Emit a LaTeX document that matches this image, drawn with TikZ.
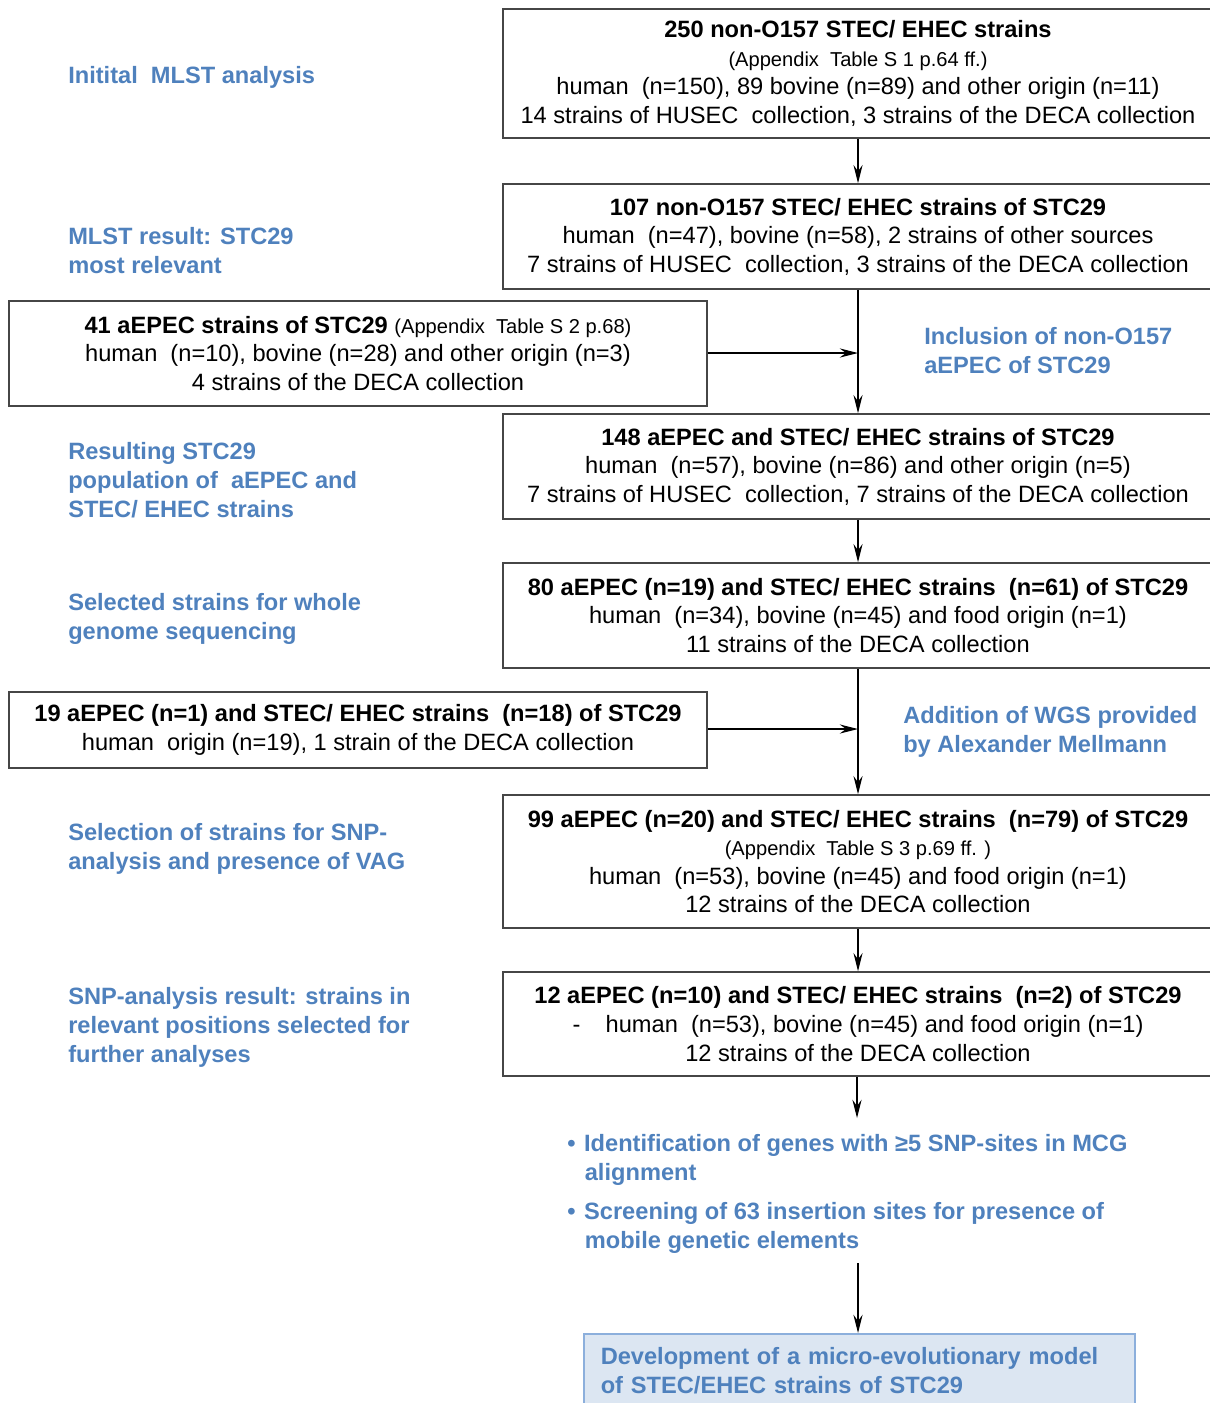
\documentclass[tikz,border=0pt]{standalone}
\usepackage{fontspec}
\setmainfont{Liberation Sans}
\usetikzlibrary{arrows.meta}
\definecolor{lblue}{RGB}{79,129,189}
\definecolor{boxfill}{RGB}{220,230,242}
\definecolor{boxedge}{RGB}{140,175,220}
\definecolor{edgegray}{RGB}{70,70,70}
\newcommand{\bxfont}{\fontsize{16.8}{20.3}\selectfont}
\newcommand{\smfont}{\fontsize{14.3}{20.3}\selectfont}
\newcommand{\lbfont}{\fontsize{16.8}{20.6}\selectfont\bfseries}
\begin{document}
\begin{tikzpicture}[x=0.025cm,y=-0.025cm,
  box/.style={draw=edgegray, line width=1.1pt, minimum width=17.75cm, align=center, font=\bxfont, inner sep=0pt},
  lbox/.style={box, minimum width=17.45cm},
  lbl/.style={anchor=base west, align=left, inner sep=0pt, font=\lbfont, text=lblue},
  arr/.style={-{Stealth[length=13pt,width=6.5pt,inset=4.5pt]}, line width=0.8pt, black},
  endbox/.style={draw=boxedge, line width=1.1pt, fill=boxfill, anchor=north west, align=left,
    text width=12.925cm, inner xsep=0.425cm, inner ysep=0.35cm, font=\lbfont, text=lblue}]
\useasboundingbox (0,0) rectangle (1210,1403);
\clip (0,0) rectangle (1210,1403);

% boxes
\node[box, minimum height=3.225cm] (b1) at (858,73.5) {\textbf{250 non-O157 STEC/ EHEC strains}\\
  {\smfont (Appendix\ \ Table S 1 p.64 ff.)}\\
  human~ (n=150), 89 bovine (n=89) and other origin (n=11)\\
  14 strains of HUSEC~ collection, 3 strains of the DECA collection};
\node[box, minimum height=2.625cm] (b2) at (858,236.5) {\textbf{107 non-O157 STEC/ EHEC strains of STC29}\\
  human~ (n=47), bovine (n=58), 2 strains of other sources\\
  7 strains of HUSEC~ collection, 3 strains of the DECA collection};
\node[lbox, minimum height=2.625cm] (b3) at (358,353.5) {\textbf{41 aEPEC strains of STC29} {\smfont (Appendix\ \ Table S 2 p.68)}\\
  human~ (n=10), bovine (n=28) and other origin (n=3)\\
  4 strains of the DECA collection};
\node[box, minimum height=2.625cm] (b4) at (858,466.5) {\textbf{148 aEPEC and STEC/ EHEC strains of STC29}\\
  human~ (n=57), bovine (n=86) and other origin (n=5)\\
  7 strains of HUSEC~ collection, 7 strains of the DECA collection};
\node[box, minimum height=2.625cm] (b5) at (858,615.5) {\textbf{80 aEPEC (n=19) and STEC/ EHEC strains~ (n=61) of STC29}\\
  human~ (n=34), bovine (n=45) and food origin (n=1)\\
  11 strains of the DECA collection};
\node[lbox, minimum height=1.9cm] (b6) at (358,730) {\textbf{19 aEPEC (n=1) and STEC/ EHEC strains~ (n=18) of STC29}\\
  human~ origin (n=19), 1 strain of the DECA collection};
\node[box, minimum height=3.325cm] (b7) at (858,861.5) {\textbf{99 aEPEC (n=20) and STEC/ EHEC strains~ (n=79) of STC29}\\
  {\smfont (Appendix\ \ Table S 3 p.69 ff. )}\\
  human~ (n=53), bovine (n=45) and food origin (n=1)\\
  12 strains of the DECA collection};
\node[box, minimum height=2.6cm] (b8) at (858,1024) {\textbf{12 aEPEC (n=10) and STEC/ EHEC strains~ (n=2) of STC29}\\
  -\hspace{18pt}human~ (n=53), bovine (n=45) and food origin (n=1)\\
  12 strains of the DECA collection};

% blue labels (anchor = baseline of last line)
\node[lbl] (l1) at (68,83) {Initital~ MLST analysis};
\node[lbl] (l2) at (68,273) {MLST result: STC29\\most relevant};
\node[lbl] (l3) at (924,373) {Inclusion of non-O157\\aEPEC of STC29};
\node[lbl] (l4) at (68,517) {Resulting STC29\\population of~ aEPEC and\\STEC/ EHEC strains};
\node[lbl] (l5) at (68,639) {Selected strains for whole\\genome sequencing};
\node[lbl] (l6) at (903,752) {Addition of WGS provided\\by Alexander Mellmann};
\node[lbl] (l7) at (68,869) {Selection of strains for SNP-\\analysis and presence of VAG};
\node[lbl] (l8) at (68,1062) {SNP-analysis result: strains in\\relevant positions selected for\\further analyses};
\node[lbl] (bu1) at (567,1180) {\makebox[12pt][l]{•}Identification of genes with ≥5 SNP-sites in MCG\\\hspace*{12.5pt}alignment};
\node[lbl] (bu2) at (567,1248) {\makebox[12pt][l]{•}Screening of 63 insertion sites for presence of\\\hspace*{12.5pt}mobile genetic elements};

\node[endbox] (b9) at (583,1333) {Development of a micro-evolutionary model\\of STEC/EHEC strains of STC29};

% connectors
\coordinate (j1) at (858,353);
\coordinate (j2) at (858,729);
\coordinate (c1) at (857,1118);
\coordinate (c2) at (858,1263);
\draw[arr] (b1.south) -- (b2.north);
\draw[arr] (b2.south) -- (b4.north);
\draw[arr] (b3.east |- j1) -- (j1);
\draw[arr] (b4.south) -- (b5.north);
\draw[arr] (b5.south) -- (b7.north);
\draw[arr] (b6.east |- j2) -- (j2);
\draw[arr] (b7.south) -- (b8.north);
\draw[arr] (b8.south -| c1) -- (c1);
\draw[arr] (c2) -- (c2 |- b9.north);
\end{tikzpicture}
\end{document}
